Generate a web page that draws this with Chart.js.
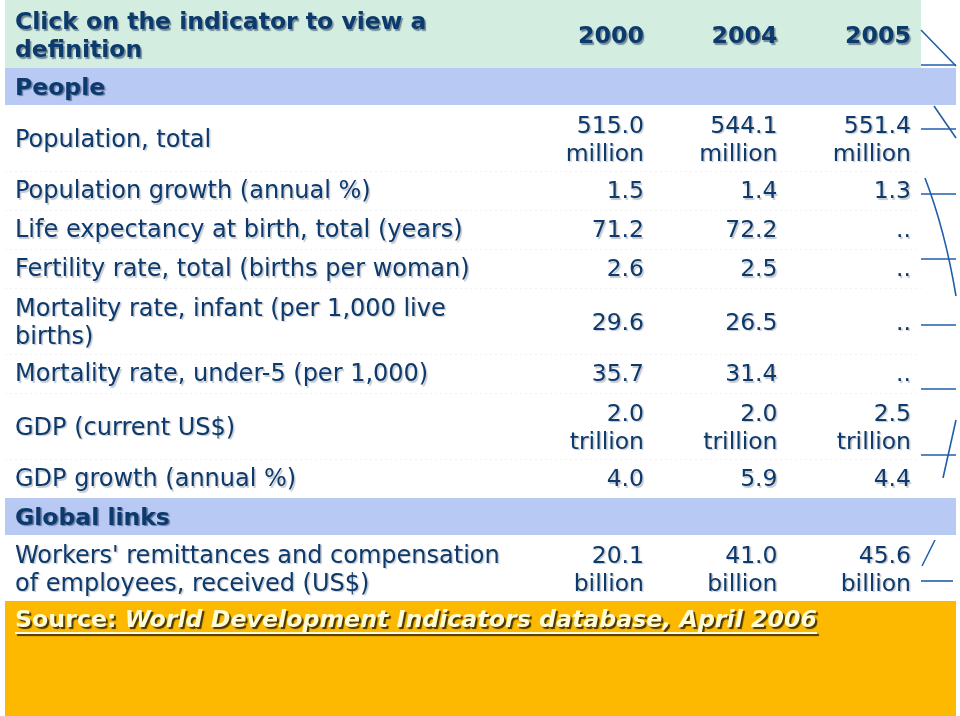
<!DOCTYPE html>
<html>
<head>
<meta charset="utf-8">
<script src="https://cdn.jsdelivr.net/npm/chart.js@4.4.1/dist/chart.umd.min.js"></script>
<style>
html,body{margin:0;padding:0;background:#fff;}
#wrap{width:960px;height:716px;}
</style>
</head>
<body>
<div id="wrap"><canvas id="c" width="960" height="716"></canvas></div>
<script>
// ---- data ----
const title = "Click on the indicator to view a\ndefinition";
const years = ['2000', '2004', '2005'];
const sectionPeople = 'People';
const sectionGlobal = 'Global links';
const peopleIndicators = [
  'Population, total',
  'Population growth (annual %)',
  'Life expectancy at birth, total (years)',
  'Fertility rate, total (births per woman)',
  'Mortality rate, infant (per 1,000 live\nbirths)',
  'Mortality rate, under-5 (per 1,000)',
  'GDP (current US$)',
  'GDP growth (annual %)'
];
const populationTotal = [515.0, 544.1, 551.4];      // million
const populationGrowth = [1.5, 1.4, 1.3];
const lifeExpectancy = [71.2, 72.2, null];
const fertilityRate = [2.6, 2.5, null];
const mortalityInfant = [29.6, 26.5, null];
const mortalityUnder5 = [35.7, 31.4, null];
const gdpCurrent = [2.0, 2.0, 2.5];                 // trillion
const gdpGrowth = [4.0, 5.9, 4.4];
const globalIndicators = ["Workers' remittances and compensation\nof employees, received (US$)"];
const remittances = [20.1, 41.0, 45.6];             // billion
const units = ['million', '', '', '', '', '', 'trillion', '', 'billion'];
const sourceLead = 'Source: ';
const sourceText = 'World Development Indicators database, April 2006';

// ---- build table rows from data ----
const peopleSeries = [populationTotal, populationGrowth, lifeExpectancy, fertilityRate,
  mortalityInfant, mortalityUnder5, gdpCurrent, gdpGrowth];
function cellText(v, unit) {
  if (v === null) return ['..'];
  const s = v.toFixed(1);
  return unit ? [s, unit] : [s];
}
const rows = [];
rows.push({kind: 'header', label: title.split('\n'), cells: years.map(y => [y])});
rows.push({kind: 'section', label: [sectionPeople]});
peopleIndicators.forEach((lab, i) => rows.push({kind: 'data', label: lab.split('\n'),
  cells: peopleSeries[i].map(v => cellText(v, units[i]))}));
rows.push({kind: 'section', label: [sectionGlobal]});
globalIndicators.forEach(lab => rows.push({kind: 'data', label: lab.split('\n'),
  cells: remittances.map(v => cellText(v, units[8]))}));
rows.push({kind: 'source'});

// ---- style ----
const FONT = '"DejaVu Sans", Verdana, sans-serif';
const TXT = '#0d3a6c';
const GREEN = '#d3ede1';
const BLUE = '#b8c9f3';
const ORANGE = '#fdb800';
const HDR_H = 68, SEC_H = 37, ROW_H = 39, LINE_H = 28;
const LEFT = 15, COL0 = 644, COL_STEP = 133.5, BAND_L = 5, BAND_R = 956, HDR_R = 921;

const tablePlugin = {
  id: 'table',
  afterDraw(chart) {
    const ctx = chart.ctx, xs = chart.scales.x, ys = chart.scales.y;
    const X = v => xs.getPixelForValue(v), Y = v => ys.getPixelForValue(v);
    ctx.save();
    ctx.textBaseline = 'middle';
    function shadow(col, o, b) { ctx.shadowColor = col; ctx.shadowOffsetX = o; ctx.shadowOffsetY = o; ctx.shadowBlur = b; }
    function noShadow() { ctx.shadowColor = 'rgba(0,0,0,0)'; ctx.shadowOffsetX = 0; ctx.shadowOffsetY = 0; ctx.shadowBlur = 0; }
    function lines(arr, x, yc, align) {
      ctx.textAlign = align;
      const n = arr.length;
      arr.forEach((t, k) => ctx.fillText(t, x, yc + (k - (n - 1) / 2) * LINE_H));
    }
    let top = 0;
    rows.forEach(r => {
      if (r.kind === 'header') {
        const h = HDR_H;
        noShadow();
        ctx.fillStyle = GREEN;
        ctx.fillRect(X(BAND_L), Y(top), X(HDR_R) - X(BAND_L), Y(top + h) - Y(top));
        ctx.fillStyle = TXT;
        shadow('rgba(0,20,60,0.45)', 1.5, 1);
        ctx.font = 'bold 23.5px ' + FONT;
        lines(r.label, X(LEFT), Y(top + h / 2 + 3), 'left');
        ctx.font = 'bold 23.7px ' + FONT;
        r.cells.forEach((c, i) => lines(c, X(COL0 + i * COL_STEP), Y(top + h / 2 + 3), 'right'));
        top += h;
      } else if (r.kind === 'section') {
        const h = SEC_H;
        noShadow();
        ctx.fillStyle = BLUE;
        ctx.fillRect(X(BAND_L), Y(top), X(BAND_R) - X(BAND_L), Y(top + h) - Y(top));
        ctx.fillStyle = TXT;
        shadow('rgba(0,20,60,0.45)', 1.5, 1);
        ctx.font = 'bold 23.5px ' + FONT;
        lines(r.label, X(LEFT), Y(top + h / 2 + 2), 'left');
        top += h;
      } else if (r.kind === 'data') {
        const n = Math.max(r.label.length, ...r.cells.map(c => c.length));
        const h = ROW_H + (n - 1) * (LINE_H - 1);
        // faint dotted separator
        noShadow();
        ctx.strokeStyle = 'rgba(0,0,0,0.05)';
        ctx.setLineDash([2, 3]);
        ctx.lineWidth = 1;
        ctx.beginPath(); ctx.moveTo(X(BAND_L), Y(top + h) + 0.5); ctx.lineTo(X(HDR_R), Y(top + h) + 0.5); ctx.stroke();
        ctx.setLineDash([]);
        ctx.fillStyle = TXT;
        shadow('rgba(60,70,90,0.3)', 1.5, 1);
        const dy = n > 1 ? 2.5 : 1.5;
        ctx.font = '24px ' + FONT;
        lines(r.label, X(LEFT), Y(top + h / 2 + dy), 'left');
        ctx.font = '23.5px ' + FONT;
        r.cells.forEach((c, i) => lines(c, X(COL0 + i * COL_STEP), Y(top + h / 2 + dy), 'right'));
        top += h;
      } else if (r.kind === 'source') {
        noShadow();
        ctx.fillStyle = ORANGE;
        ctx.fillRect(X(BAND_L), Y(top), X(BAND_R) - X(BAND_L), Y(716) - Y(top));
        const yc = Y(top + 20);
        const fs = '23.7px ';
        ctx.textAlign = 'left';
        ctx.font = 'bold ' + fs + FONT;
        const w1 = ctx.measureText(sourceLead).width;
        ctx.font = 'italic bold ' + fs + FONT;
        const w2 = ctx.measureText(sourceText).width;
        shadow('rgba(40,30,0,0.85)', 2, 1);
        ctx.fillStyle = '#fffbd6';
        ctx.font = 'bold ' + fs + FONT;
        ctx.fillText(sourceLead, X(LEFT), yc);
        ctx.font = 'italic bold ' + fs + FONT;
        ctx.fillText(sourceText, X(LEFT) + w1, yc);
        ctx.fillRect(X(LEFT), yc + 11, w1 + w2, 2);
        top = 716;
      }
    });
    // stray connector strokes at the right edge of the slide
    noShadow();
    ctx.strokeStyle = '#1f5fa8';
    ctx.lineWidth = 1.6;
    const strokes = [
      [[921, 30], [956, 66]], [[921, 65], [956, 65]],
      [[934, 106], [956, 138]], [[921, 129], [956, 129]],
      [[921, 194], [956, 194]], [[921, 259], [956, 259]], [[921, 325], [956, 325]],
      [[921, 389], [956, 389]], [[921, 455], [956, 455]],
      [[956, 420], [943, 478]], [[935, 540], [922, 566]], [[921, 581], [953, 581]]
    ];
    strokes.forEach(s => { ctx.beginPath(); ctx.moveTo(X(s[0][0]), Y(s[0][1])); ctx.lineTo(X(s[1][0]), Y(s[1][1])); ctx.stroke(); });
    ctx.beginPath();
    ctx.moveTo(X(925), Y(178));
    ctx.quadraticCurveTo(X(945), Y(230), X(956), Y(296));
    ctx.stroke();
    ctx.restore();
  }
};

new Chart(document.getElementById('c'), {
  type: 'scatter',
  data: {datasets: [{data: [], pointRadius: 0}]},
  options: {
    responsive: false,
    animation: false,
    layout: {padding: 0},
    plugins: {legend: {display: false}, tooltip: {enabled: false}},
    scales: {
      x: {type: 'linear', min: 0, max: 960, display: false},
      y: {type: 'linear', min: 0, max: 716, reverse: true, display: false}
    }
  },
  plugins: [tablePlugin]
});
</script>
</body>
</html>
